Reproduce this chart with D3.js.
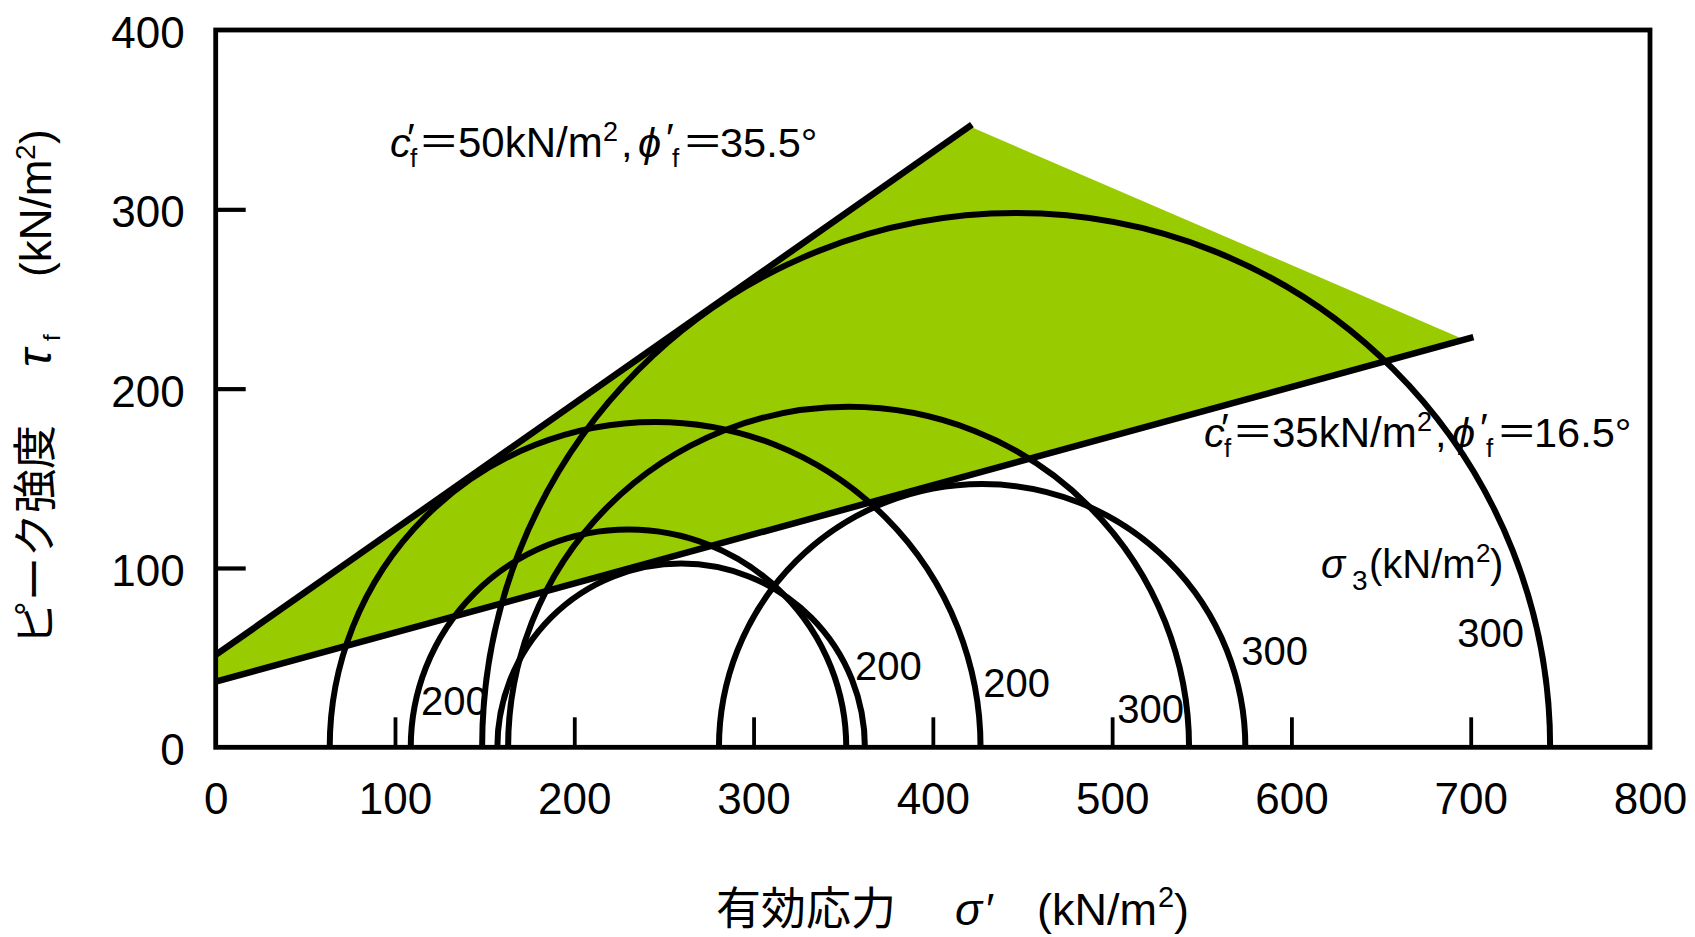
<!DOCTYPE html>
<html><head><meta charset="utf-8">
<script src="https://cdn.jsdelivr.net/npm/d3@7"></script>
<style>
html,body{margin:0;padding:0;background:#fff;}
svg{display:block;}
</style></head><body>
<svg id="chart" width="1695" height="937"></svg>
<script>
// ---- data ----
const xTickValues = [100, 200, 300, 400, 500, 600, 700];
const xTickLabels = [0, 100, 200, 300, 400, 500, 600, 700, 800];
const yTickValues = [100, 200, 300];
const yTickLabels = [0, 100, 200, 300, 400];
// Mohr circles: minor / major effective principal stresses (kN/m2)
const circleSigma3 = [63.6, 108.8, 148.6, 157.1, 163.1, 280.7];
const circleSigma1 = [426.6, 351.7, 744.3, 362.1, 542.9, 574.3];
const circleLabels = ["200", "200", "200", "300", "300", "300"];
// failure envelopes [sigma, tau]
const upperEnvelope = [[0, 51.5], [421.8, 347.2]];
const lowerEnvelope = [[0, 36.6], [701.5, 228.7]];
const fillRegion = [[0, 51.5], [421, 346], [695, 228], [0, 36.6]];

// ---- layout ----
const svg = d3.select("#chart");
const M = {left: 215.7, right: 1650, top: 30, bottom: 747.3};
const x = d3.scaleLinear().domain([0, 800]).range([M.left, M.right]);
const y = d3.scaleLinear().domain([0, 400]).range([M.bottom, M.top]);
const LATIN = "'Liberation Sans', Arial, 'DejaVu Sans', sans-serif";
const CJK = "'Noto Sans CJK JP', 'Noto Sans CJK SC', sans-serif";

// green region
svg.append("path")
  .attr("d", d3.line().x(d => x(d[0])).y(d => y(d[1]))(fillRegion) + "Z")
  .attr("fill", "#99CC00").attr("stroke", "none");

// Mohr circles (upper halves)
const circles = circleSigma3.map((s3, i) => ({s3, s1: circleSigma1[i], label: circleLabels[i]}));
svg.append("g").selectAll("path").data(circles).join("path")
  .attr("d", d => {
    const c = (d.s1 + d.s3) / 2;
    const r = x(d.s1) - x(c);
    const p = d3.path();
    p.arc(x(c), y(0), r, Math.PI, 2 * Math.PI, false);
    return p.toString();
  })
  .attr("fill", "none").attr("stroke", "#000").attr("stroke-width", 6);

// envelopes
const line = d3.line().x(d => x(d[0])).y(d => y(d[1]));
[upperEnvelope, lowerEnvelope].forEach(e => {
  svg.append("path").attr("d", line(e))
    .attr("fill", "none").attr("stroke", "#000").attr("stroke-width", 6.5);
});

// frame
svg.append("rect")
  .attr("x", M.left).attr("y", M.top)
  .attr("width", M.right - M.left).attr("height", M.bottom - M.top)
  .attr("fill", "none").attr("stroke", "#000").attr("stroke-width", 4.8);

// inner ticks
svg.append("g").attr("transform", `translate(0,${M.bottom})`)
  .call(d3.axisBottom(x).tickValues(xTickValues).tickSize(-30).tickFormat(""))
  .call(g => g.select(".domain").remove())
  .call(g => g.selectAll("line").attr("stroke", "#000").attr("stroke-width", 3.8));
svg.append("g").attr("transform", `translate(${M.left},0)`)
  .call(d3.axisLeft(y).tickValues(yTickValues).tickSize(-30).tickFormat(""))
  .call(g => g.select(".domain").remove())
  .call(g => g.selectAll("line").attr("stroke", "#000").attr("stroke-width", 4.2));

// tick labels
svg.append("g").attr("transform", `translate(0,${M.bottom})`)
  .call(d3.axisBottom(x).tickValues(xTickLabels).tickSize(0).tickPadding(35.5).tickFormat(d3.format("d")))
  .call(g => g.select(".domain").remove())
  .call(g => g.selectAll("text").attr("font-family", LATIN).attr("font-size", 44).attr("fill", "#000"));
svg.append("g").attr("transform", `translate(${M.left},0)`)
  .call(d3.axisLeft(y).tickValues(yTickLabels).tickSize(0).tickPadding(31).tickFormat(d3.format("d")))
  .call(g => g.select(".domain").remove())
  .call(g => g.selectAll("text").attr("font-family", LATIN).attr("font-size", 44).attr("fill", "#000").attr("dy", "0.4em"));

// circle labels (confining pressure)
const labelAnchors = [[114.5, 18.0], [356.6, 37.5], [428.1, 28.1], [502.8, 13.6], [572.0, 45.9], [692.5, 56.0]];
svg.append("g").selectAll("text").data(circles).join("text")
  .attr("x", (d, i) => x(labelAnchors[i][0]))
  .attr("y", (d, i) => y(labelAnchors[i][1]))
  .attr("font-family", LATIN).attr("font-size", 40).attr("fill", "#000")
  .text(d => d.label);

// helper for composed text
function pieces(parent, list) {
  list.forEach(p => {
    parent.append("text")
      .attr("x", p.x).attr("y", p.y)
      .attr("font-family", p.cjk ? CJK : LATIN)
      .attr("font-size", p.s)
      .attr("font-style", p.i ? "italic" : "normal")
      .attr("fill", "#000")
      .text(p.t);
  });
}
const F = 41.5;
function envelopeText(ox, oy, c, phi) {
  const g = svg.append("g").attr("transform", `translate(${ox},${oy})`);
  pieces(g, [
    {t: "c", x: 0, y: 0, s: F, i: true},
    {t: "′", x: 17, y: -5, s: F},
    {t: "f", x: 20, y: 10, s: 26},
    {t: "＝", x: 28, y: 0, s: F, cjk: true},
    {t: c + "kN/m", x: 68, y: 0, s: 42},
    {t: "2", x: 213, y: -16, s: 27},
    {t: ",", x: 231, y: 0, s: F},
    {t: "ϕ", x: 248, y: 0, s: F, i: true},
    {t: "′", x: 276, y: -5, s: F},
    {t: "f", x: 282, y: 10, s: 26},
    {t: "＝", x: 292, y: 0, s: F, cjk: true},
    {t: phi + "°", x: 330, y: 0, s: F}
  ]);
}
envelopeText(390, 157, "50", "35.5");
envelopeText(1204, 447, "35", "16.5");

// sigma3 legend
pieces(svg, [
  {t: "σ", x: 1321, y: 578, s: 40, i: true},
  {t: "3", x: 1352, y: 590, s: 28},
  {t: "(kN/m", x: 1369, y: 578, s: 40},
  {t: "2", x: 1476, y: 562, s: 26},
  {t: ")", x: 1490, y: 578, s: 40}
]);

// x axis title
pieces(svg, [
  {t: "有効応力", x: 716, y: 925, s: 45, cjk: true},
  {t: "σ", x: 955, y: 925, s: 45, i: true},
  {t: "′", x: 986, y: 925, s: 45},
  {t: "(kN/m", x: 1037, y: 925, s: 45},
  {t: "2", x: 1158, y: 907, s: 29},
  {t: ")", x: 1174, y: 925, s: 45}
]);

// y axis title (rotated)
const yt = svg.append("g").attr("transform", "translate(51,0) rotate(-90)");
pieces(yt, [
  {t: "ピーク強度", x: -645, y: 0, s: 44, cjk: true},
  {t: "τ", x: -367, y: 0, s: 48, i: true},
  {t: "f", x: -341, y: 9, s: 24},
  {t: "(kN/m", x: -277, y: 0, s: 44},
  {t: "2", x: -160, y: -16, s: 28},
  {t: ")", x: -144, y: 0, s: 44}
]);
</script>
</body></html>
